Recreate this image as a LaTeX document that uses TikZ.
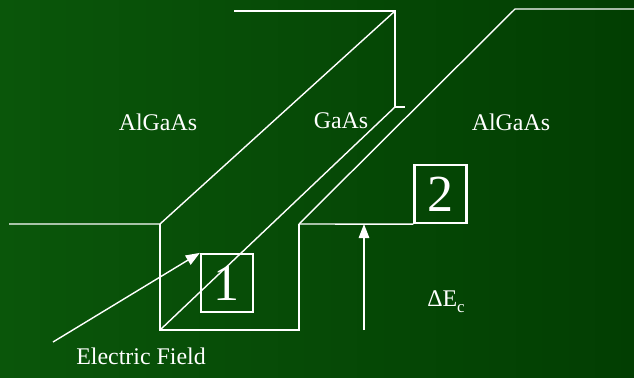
\documentclass[tikz,border=0pt]{standalone}
\usepackage{fontspec}
\setmainfont{Liberation Serif}
\usetikzlibrary{arrows.meta}
\definecolor{slidegreen}{HTML}{0A560A}
\definecolor{darkgreen}{HTML}{023E02}

\begin{document}
\begin{tikzpicture}[x=0.025cm, y=-0.025cm, line width=1pt, white, font=\fontsize{17}{20}\selectfont,
    numbox/.style={draw, line width=1.6pt, minimum width=1.3cm, minimum height=1.45cm, inner sep=0pt, font=\fontsize{37}{40}\selectfont},
    tip/.style={-{Triangle[length=10pt, width=7.5pt]}}]
    \shade[left color=slidegreen, right color=darkgreen] (0,0) rectangle (634,377);
    \useasboundingbox (0,0) rectangle (634,377);
    % band edges
    \coordinate (ctop) at (234,11);
    \coordinate (ccorner) at (395,11);
    \coordinate (cstep) at (395,107);
    \coordinate (ctick) at (405,107);
    \coordinate (lfar) at (9,224);
    \coordinate (wltop) at (160,224);
    \coordinate (wlbot) at (160,330);
    \coordinate (wrbot) at (299,330);
    \coordinate (wrtop) at (299,224);
    \coordinate (rcorner) at (515,9);
    \coordinate (rfar) at (634,9);
    \draw (ctop) -- (ccorner) -- (cstep) -- (ctick);
    \draw (ccorner) -- (wltop) -- (lfar);
    \draw (cstep) -- (wlbot);
    \draw (wltop) -- (wlbot) -- (wrbot) -- (wrtop);
    \draw (wrtop) -- (rcorner) -- (rfar);
    % boxes
    \node[numbox] (one) at (227,283) {1};
    \node[numbox] (two) at (440.5,194) {2};
    \draw (wrtop) -- (two.south west);
    % arrows
    \coordinate (efstart) at (53,342);
    \draw[tip] (efstart) -- (one.north west);
    \coordinate (debot) at (364,330);
    \coordinate (detop) at (364,224);
    \draw[tip] (debot) -- (detop);
    % labels
    \node (leftmat) at (158,122) {AlGaAs};
    \node (wellmat) at (341,121) {GaAs};
    \node (rightmat) at (511,122) {AlGaAs};
    \node (efield) at (141,356) {Electric Field};
    \node (deltae) at (446,302) {ΔE\raisebox{-0.55ex}{\fontsize{12}{14}\selectfont c}};
\end{tikzpicture}
\end{document}
